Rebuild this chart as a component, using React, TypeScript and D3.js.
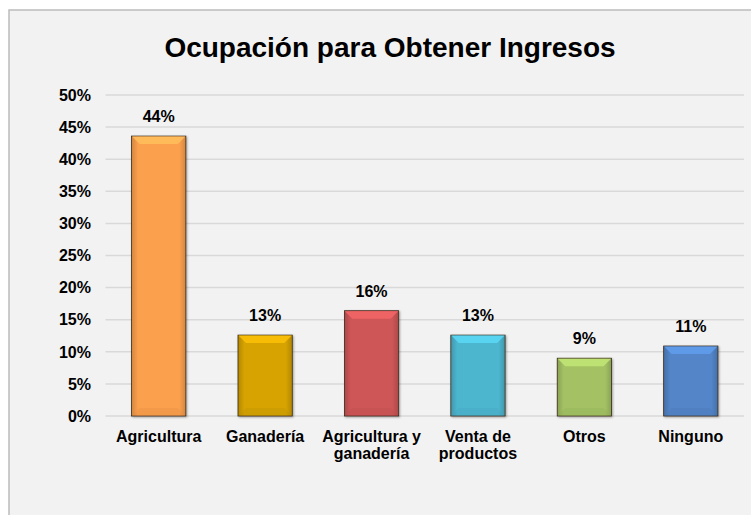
import React from "react";
import * as d3 from "d3";

const categories = ["Agricultura", "Ganadería", "Agricultura y|ganadería", "Venta de|productos", "Otros", "Ninguno"];
const values = [0.436, 0.126, 0.164, 0.126, 0.09, 0.109];
const valueLabels = ["44%", "13%", "16%", "13%", "9%", "11%"];
const colors = ["#FBA04E", "#D6A306", "#CE5657", "#4DB6CF", "#A4C264", "#5285C8"];
const yTicks = [0, 0.05, 0.1, 0.15, 0.2, 0.25, 0.3, 0.35, 0.4, 0.45, 0.5];
const title = "Ocupación para Obtener Ingresos";

const W = 751;
const H = 515;
const plot = { left: 105.5, right: 744, top: 95, bottom: 416 };

export default function App() {
  const x = d3.scaleBand<string>().domain(categories).range([plot.left, plot.right]).paddingInner(0.49).paddingOuter(0.245);
  const y = d3.scaleLinear().domain([0, 0.5]).range([plot.bottom, plot.top]);
  const fmt = d3.format(".0%");
  const font = "'Liberation Sans', Arial, sans-serif";
  const bw = x.bandwidth();
  const bev = 8;

  return (
    <svg width={W} height={H} style={{ position: "absolute", left: 0, top: 0 }} fontFamily={font}>
      <defs>
        {colors.map((c, i) => {
          const dk = d3.color(c)!.darker(0.5).formatHex();
          return (
            <linearGradient key={i} id={`g${i}`} x1="0" x2="1" y1="0" y2="0">
              <stop offset="0" stopColor={dk} />
              <stop offset="0.12" stopColor={c} />
              <stop offset="0.88" stopColor={c} />
              <stop offset="1" stopColor={dk} />
            </linearGradient>
          );
        })}
        <filter id="sh" x="-20%" y="-10%" width="140%" height="120%">
          <feDropShadow dx="1" dy="1" stdDeviation="1" floodColor="#000" floodOpacity="0.35" />
        </filter>
      </defs>
      <rect x={0} y={0} width={W} height={H} fill="#ffffff" />
      <rect x={9} y={10} width={W + 20} height={H + 20} fill="#f2f2f2" stroke="#bcbcbc" strokeWidth={1.5} />
      <text x={390} y={57} textAnchor="middle" fontSize={28} fontWeight="bold" fill="#000">{title}</text>
      {yTicks.map((t) => (
        <g key={t}>
          <line x1={plot.left} x2={plot.right} y1={y(t)} y2={y(t)} stroke="#d9d9d9" strokeWidth={1.5} />
          <text x={91} y={y(t) + 5.7} textAnchor="end" fontSize={16} fontWeight="bold" fill="#000">{fmt(t)}</text>
        </g>
      ))}
      {categories.map((c, i) => {
        const bx = x(c)!;
        const by = y(values[i]);
        const bh = plot.bottom - by;
        const light = d3.color(colors[i])!.brighter(0.45).formatHex();
        const dark = d3.color(colors[i])!.darker(0.3).formatHex();
        return (
          <g key={c}>
            <g filter="url(#sh)">
              <rect x={bx} y={by} width={bw} height={bh} fill={`url(#g${i})`} stroke="#3a2a18" strokeWidth={0.8} />
            </g>
            <polygon points={`${bx + 0.5},${by + 0.5} ${bx + bw - 0.5},${by + 0.5} ${bx + bw - bev},${by + bev} ${bx + bev},${by + bev}`} fill={light} opacity={0.9} />
            <polygon points={`${bx + 0.5},${plot.bottom - 0.5} ${bx + bw - 0.5},${plot.bottom - 0.5} ${bx + bw - bev},${plot.bottom - bev} ${bx + bev},${plot.bottom - bev}`} fill={dark} opacity={0.35} />
            <text x={bx + bw / 2} y={by - 14} textAnchor="middle" fontSize={16} fontWeight="bold" fill="#000">{valueLabels[i]}</text>
            {c.split("|").map((ln, j) => (
              <text key={j} x={bx + bw / 2} y={442 + j * 17} textAnchor="middle" fontSize={16} fontWeight="bold" fill="#000">{ln}</text>
            ))}
          </g>
        );
      })}
    </svg>
  );
}
